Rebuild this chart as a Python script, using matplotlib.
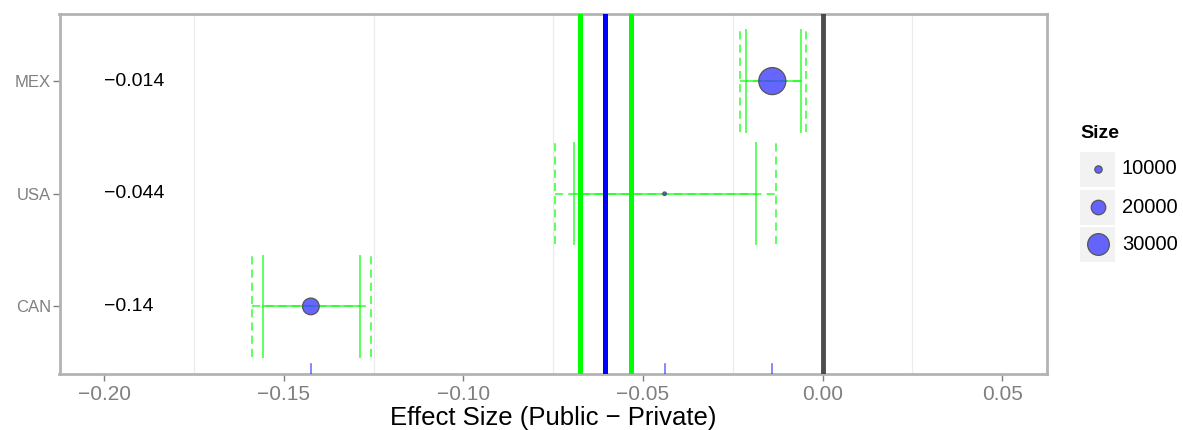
import matplotlib
matplotlib.use("Agg")
import matplotlib.pyplot as plt
from matplotlib.patches import Rectangle

plt.rcParams['font.family'] = ['Liberation Sans', 'DejaVu Sans']

# ---- data ----
countries = ["CAN", "USA", "MEX"]
estimates = [-0.1425, -0.044, -0.014]
est_labels = ["\u22120.14", "\u22120.044", "\u22120.014"]
sizes = [23000, 4700, 37400]
ci_inner_lo = [-0.1559, -0.0691, -0.0214]
ci_inner_hi = [-0.1289, -0.0186, -0.0061]
ci_outer_lo = [-0.1589, -0.0746, -0.0230]
ci_outer_hi = [-0.1258, -0.0131, -0.0045]
pooled_est = -0.0605
pooled_lo = -0.0675
pooled_hi = -0.0533
null_value = 0.0
legend_sizes = [10000, 20000, 30000]
x_ticks = [-0.20, -0.15, -0.10, -0.05, 0.00, 0.05]
x_minor = [-0.175, -0.125, -0.075, -0.025, 0.025]
label_x = -0.2

W, H, DPI = 1183, 430, 100
fig = plt.figure(figsize=(W / DPI, H / DPI), dpi=DPI)

def px_box(l, t, r, b):
    return [l / W, 1 - b / H, (r - l) / W, (b - t) / H]

ax = fig.add_axes(px_box(59.5, 13.5, 1047, 374))

def diam_px(v):
    return 1.1 + 0.72 * v / 1000.0

def marker_area(v):
    d = max(diam_px(v) - 1.0, 1.0) * 72.0 / DPI
    return d * d

ypos = list(range(1, len(countries) + 1))

# grid
for xm in x_minor:
    ax.axvline(xm, color="#EBEBEB", lw=0.8, zorder=0.5)

green = "#00FF00"
ebc = (0.1, 1.0, 0.1, 0.7)
lw_e = 1.4
dash = (0, (4.2, 2.6))
h = 0.45
for y, lo, hi, olo, ohi in zip(ypos, ci_inner_lo, ci_inner_hi, ci_outer_lo, ci_outer_hi):
    ax.plot([lo, hi], [y, y], color=ebc, lw=lw_e, zorder=2)
    ax.plot([olo, ohi], [y, y], color=ebc, lw=lw_e, ls=dash, zorder=2)
    for xx in (lo, hi):
        ax.plot([xx, xx], [y - h, y + h], color=ebc, lw=lw_e, zorder=2)
    for xx in (olo, ohi):
        ax.plot([xx, xx], [y - h, y + h], color=ebc, lw=lw_e, ls=dash, zorder=2)

# summary lines
ax.axvline(pooled_lo, color=green, lw=3.6, zorder=3)
ax.axvline(pooled_hi, color=green, lw=3.6, zorder=3)
ax.axvline(pooled_est, color="#0000FF", lw=3.6, zorder=3)
ax.axvline(null_value, color="#3A3A3A", lw=3.5, alpha=0.9, zorder=3)

# points
ax.scatter(estimates, ypos, s=[marker_area(v) for v in sizes],
           facecolor=(0.25, 0.25, 1.0, 0.8), edgecolor="#555555", linewidth=0.9, zorder=4)

# rug
for e in estimates:
    ax.axvline(e, ymin=0, ymax=0.028, color=(0, 0, 1, 0.55), lw=1.2, zorder=3)

# text labels
for y, t in zip(ypos, est_labels):
    ax.text(label_x, y, t, ha="left", va="center", fontsize=14, color="black", zorder=5)

ax.set_xlim(-0.2125, 0.0625)
ax.set_ylim(0.4, 3.6)
ax.set_xticks(x_ticks)
ax.set_xticklabels([("\u2212%.2f" % abs(t)) if t < 0 else "%.2f" % t for t in x_ticks])
ax.set_yticks(ypos)
ax.set_yticklabels(countries)
ax.tick_params(axis="x", colors="#7F7F7F", labelcolor="#7F7F7F", labelsize=15, length=5, width=1, pad=3)
ax.tick_params(axis="y", colors="#7F7F7F", labelcolor="#7F7F7F", labelsize=12, length=5, width=1, pad=1)
for s in ax.spines.values():
    s.set_color("#B3B3B3")
    s.set_linewidth(2.0)
ax.set_xlabel("Effect Size (Public \u2212 Private)", fontsize=18.5, color="black", labelpad=1)

# legend (drawn in pixel coordinates)
lax = fig.add_axes(px_box(1060, 110, 1183, 280))
lax.set_xlim(1060, 1183)
lax.set_ylim(280, 110)
lax.axis("off")
lax.text(1080, 133, "Size", fontsize=14, fontweight="bold", ha="left", va="center")
centers = [169, 207, 244]
for cy, v in zip(centers, legend_sizes):
    lax.add_patch(Rectangle((1080.5, cy - 17.5), 35, 35, facecolor="#F2F2F2", edgecolor="none"))
    lax.scatter([1098], [cy], s=marker_area(v), facecolor=(0.25, 0.25, 1.0, 0.8),
                edgecolor="#555555", linewidth=0.9, zorder=3)
    lax.text(1122, cy, str(v), fontsize=14.5, ha="left", va="center")

fig.savefig("out.png", dpi=DPI)
